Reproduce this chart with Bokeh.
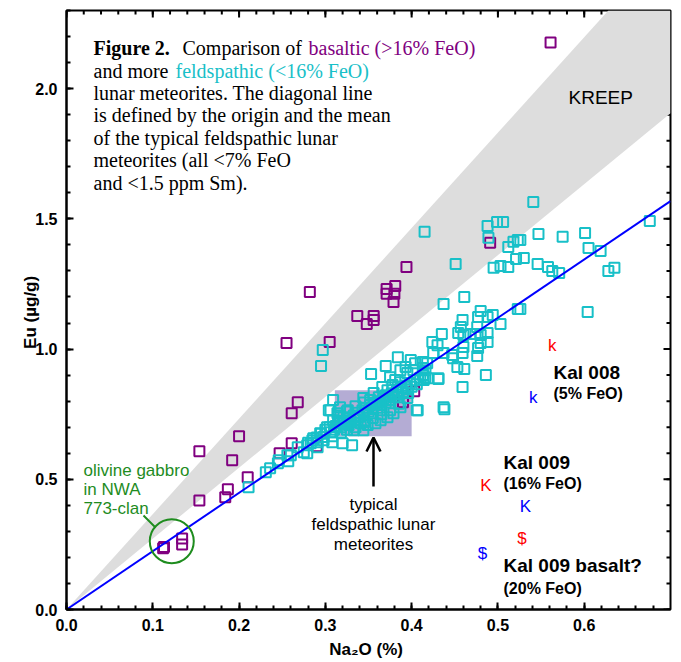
import numpy as np
from bokeh.plotting import figure
from bokeh.models import LinearAxis, SingleIntervalTicker, Range1d, Arrow, OpenHead, PrintfTickFormatter
from bokeh.core.properties import value
from bokeh.embed import file_html
from bokeh.resources import INLINE

# ---------------- data ----------------
# basaltic (>16% FeO) lunar meteorites: Na2O (%), Eu (ug/g)
basaltic_na2o = [0.561, 0.491, 0.394, 0.371, 0.381, 0.371, 0.380, 0.379, 0.337, 0.348, 0.356, 0.356,
                 0.305, 0.282, 0.255, 0.268, 0.261, 0.200, 0.154, 0.192, 0.261, 0.247, 0.210, 0.187,
                 0.184, 0.154, 0.290, 0.112, 0.113, 0.134, 0.134, 0.403, 0.390]
basaltic_eu = [2.177, 1.408, 1.315, 1.231, 1.242, 1.212, 1.212, 1.181, 1.127, 1.096, 1.127, 1.112,
               1.027, 1.219, 1.023, 0.796, 0.754, 0.665, 0.608, 0.573, 0.638, 0.600, 0.508, 0.462,
               0.431, 0.419, 0.627, 0.235, 0.240, 0.273, 0.250, 0.838, 0.796]

# feldspathic (<16% FeO) lunar meteorites
feld_na2o = [
    0.541, 0.526, 0.547, 0.575, 0.601, 0.605, 0.619, 0.530, 0.546, 0.558, 0.563, 0.571, 0.628, 0.635,
    0.676, 0.526, 0.604,
    0.415, 0.488, 0.499, 0.506, 0.489, 0.512, 0.518, 0.523, 0.521, 0.451, 0.495, 0.503, 0.512, 0.461,
    0.437, 0.523, 0.480, 0.494, 0.477, 0.488, 0.459, 0.457, 0.503, 0.476, 0.454, 0.460, 0.468, 0.474,
    0.480, 0.488, 0.435, 0.424, 0.430, 0.488, 0.480, 0.460, 0.477, 0.425, 0.437, 0.447, 0.459, 0.418,
    0.448, 0.476, 0.453, 0.461, 0.413, 0.416, 0.431, 0.486, 0.459, 0.437,
    0.297, 0.295, 0.353, 0.370, 0.384, 0.399, 0.404, 0.413, 0.416, 0.419, 0.414, 0.393, 0.387, 0.395,
    0.402, 0.375, 0.381, 0.387, 0.366, 0.372, 0.378, 0.384, 0.356, 0.362, 0.370, 0.344, 0.352, 0.360,
    0.407, 0.396, 0.395, 0.387, 0.379, 0.372, 0.364, 0.358, 0.349, 0.317, 0.326, 0.314, 0.321, 0.309,
    0.317, 0.327, 0.337, 0.341, 0.344, 0.333, 0.302, 0.306, 0.294, 0.298, 0.286, 0.291, 0.283, 0.279,
    0.308, 0.320, 0.331, 0.309, 0.304,
    0.438, 0.431, 0.406, 0.268, 0.275, 0.260,
    0.306, 0.279, 0.291, 0.257, 0.256, 0.246, 0.245, 0.236, 0.231, 0.211,
    0.300, 0.305, 0.310, 0.312, 0.315, 0.318, 0.322, 0.325, 0.328, 0.330, 0.333, 0.335, 0.338, 0.340,
    0.343, 0.345, 0.347, 0.350, 0.352, 0.355, 0.357, 0.360, 0.362, 0.365, 0.367, 0.370, 0.372, 0.375,
    0.377, 0.380, 0.383, 0.385, 0.388, 0.390, 0.393, 0.395, 0.398, 0.400, 0.403, 0.406, 0.410, 0.413,
    0.325, 0.335, 0.345, 0.355, 0.365, 0.375, 0.385, 0.315, 0.325, 0.335, 0.345, 0.290, 0.295, 0.285,
    0.280, 0.298, 0.308, 0.318]
feld_eu = [
    1.565, 1.419, 1.442, 1.431, 1.446, 1.388, 1.377, 1.350, 1.327, 1.315, 1.300, 1.292, 1.300, 1.312,
    1.492, 1.154, 1.142,
    1.450, 1.473, 1.488, 1.488, 1.427, 1.392, 1.412, 1.419, 1.346, 1.327, 1.312, 1.319, 1.315, 1.200,
    1.173, 1.154, 1.146, 1.131, 1.123, 1.123, 1.112, 1.085, 1.096, 1.085, 1.062, 1.054, 1.058, 1.058,
    1.054, 1.062, 1.058, 1.027, 1.015, 1.027, 1.023, 1.008, 1.004, 0.985, 0.985, 0.977, 0.985, 0.946,
    0.965, 0.973, 0.931, 0.923, 0.927, 0.892, 0.885, 0.900, 0.854, 0.777,
    0.996, 0.935, 0.904, 0.935, 0.969, 0.958, 0.946, 0.950, 0.919, 0.888, 0.881, 0.931, 0.919, 0.908,
    0.919, 0.892, 0.881, 0.873, 0.854, 0.842, 0.862, 0.854, 0.831, 0.815, 0.823, 0.812, 0.804, 0.796,
    0.765, 0.831, 0.812, 0.777, 0.754, 0.738, 0.727, 0.715, 0.708, 0.777, 0.765, 0.754, 0.738, 0.727,
    0.715, 0.708, 0.738, 0.715, 0.688, 0.688, 0.700, 0.681, 0.677, 0.662, 0.658, 0.642, 0.638, 0.631,
    0.642, 0.638, 0.631, 0.804, 0.765,
    0.769, 0.888, 0.765, 0.623, 0.604, 0.592,
    0.765, 0.600, 0.623, 0.569, 0.592, 0.573, 0.562, 0.542, 0.527, 0.469,
    0.690, 0.700, 0.690, 0.705, 0.720, 0.700, 0.725, 0.715, 0.735, 0.720, 0.745, 0.730, 0.755, 0.740,
    0.765, 0.750, 0.775, 0.760, 0.785, 0.770, 0.790, 0.775, 0.800, 0.785, 0.810, 0.795, 0.820, 0.805,
    0.830, 0.815, 0.840, 0.825, 0.850, 0.835, 0.860, 0.845, 0.870, 0.855, 0.880, 0.865, 0.890, 0.900,
    0.690, 0.700, 0.720, 0.735, 0.750, 0.765, 0.790, 0.745, 0.760, 0.780, 0.795, 0.660, 0.675, 0.650,
    0.640, 0.650, 0.665, 0.680]

# Kal 008 / Kal 009 analyses plotted as characters
kal_na2o = [0.563, 0.541, 0.486, 0.532, 0.528, 0.482]
kal_eu = [1.015, 0.815, 0.477, 0.396, 0.273, 0.215]
kal_char = ["k", "k", "K", "K", "$", "$"]
kal_color = ["#ff0000", "#0000ff", "#ff0000", "#0000ff", "#ff0000", "#0000ff"]

# KREEP wedge (origin-anchored) and reference line through origin and feldspathic mean
kreep_x = [0.0, 0.628, 0.70, 0.70]
kreep_y = [0.0, 2.30, 2.30, 1.905]
line_x = [0.0, 0.70]
line_y = [0.0, 1.568]
# typical feldspathic lunar meteorite box
box_left, box_right, box_bottom, box_top = 0.311, 0.400, 0.665, 0.842
# olivine gabbro circle
gabbro_x, gabbro_y = [0.122], [0.262]

XMAX, YMAX = 0.7, 2.3
FW, FH = 604, 599
PX_X = XMAX / FW   # data units per pixel
PX_Y = YMAX / FH


def X(px):
    return (px - 66) * PX_X


def Y(py):
    return (609 - py) * PX_Y


PURPLE = "#800080"
CYAN = "#18c0c8"
GREEN = "#1e8c1e"

p = figure(frame_width=FW, frame_height=FH, x_range=Range1d(0, XMAX), y_range=Range1d(0, YMAX),
           output_backend="svg", toolbar_location=None, x_axis_location=None, y_axis_location=None,
           min_border_left=66, min_border_right=8, min_border_top=10, min_border_bottom=50)
p.xgrid.grid_line_color = None
p.ygrid.grid_line_color = None
p.outline_line_color = "black"
p.outline_line_width = 2
p.background_fill_color = "white"
p.border_fill_color = "white"


def mk_axis(interval):
    ax = LinearAxis(ticker=SingleIntervalTicker(interval=interval, num_minor_ticks=5),
                    formatter=PrintfTickFormatter(format="%.1f"))
    ax.major_tick_in = 7
    ax.major_tick_out = 0
    ax.minor_tick_in = 4
    ax.minor_tick_out = 0
    ax.axis_line_width = 2
    ax.major_tick_line_width = 2
    ax.minor_tick_line_width = 2
    ax.major_label_text_font = "Liberation Sans"
    ax.major_label_text_font_style = "bold"
    ax.major_label_text_font_size = "16px"
    ax.major_label_text_color = "black"
    ax.axis_label_text_font = "Liberation Sans"
    ax.axis_label_text_font_style = "bold"
    ax.axis_label_text_font_size = "17px"
    ax.axis_label_text_color = "black"
    return ax


xb = mk_axis(0.1)
xb.axis_label = "Na\u2082O  (%)"
xb.major_label_standoff = 9
xb.axis_label_standoff = 6
p.add_layout(xb, "below")
yl = mk_axis(0.5)
yl.axis_label = "Eu  (\u00b5g/g)"
yl.major_label_standoff = 9
yl.axis_label_standoff = -8
p.add_layout(yl, "left")

# mirrored inward ticks on top and right frame edges
xt_minor = np.round(np.arange(0, XMAX + 1e-9, 0.02), 3)
xt_major = np.round(np.arange(0, XMAX + 1e-9, 0.1), 3)
yt_minor = np.round(np.arange(0, YMAX + 1e-9, 0.1), 3)
yt_major = np.round(np.arange(0, YMAX + 1e-9, 0.5), 3)
p.segment(x0=xt_minor, y0=[YMAX] * len(xt_minor), x1=xt_minor, y1=[YMAX - 4 * PX_Y] * len(xt_minor),
          line_color="black", line_width=2)
p.segment(x0=xt_major, y0=[YMAX] * len(xt_major), x1=xt_major, y1=[YMAX - 7 * PX_Y] * len(xt_major),
          line_color="black", line_width=2)
p.segment(x0=[XMAX] * len(yt_minor), y0=yt_minor, x1=[XMAX - 4 * PX_X] * len(yt_minor), y1=yt_minor,
          line_color="black", line_width=2)
p.segment(x0=[XMAX] * len(yt_major), y0=yt_major, x1=[XMAX - 7 * PX_X] * len(yt_major), y1=yt_major,
          line_color="black", line_width=2)

# KREEP wedge
p.patch(kreep_x, kreep_y, fill_color="#dddddd", line_color=None)
# typical box
p.quad(left=[box_left], right=[box_right], bottom=[box_bottom], top=[box_top],
       fill_color="#b4acd4", line_color=None)

p.scatter(basaltic_na2o, basaltic_eu, marker="square", size=10, fill_color=None,
          line_color=PURPLE, line_width=2)
p.scatter(feld_na2o, feld_eu, marker="square", size=10, fill_color=None,
          line_color=CYAN, line_width=2)
p.line(line_x, line_y, line_color="#0000ff", line_width=2)

# Kal characters
p.text(x=kal_na2o, y=kal_eu, text=kal_char, text_color=kal_color,
       text_font=value("Liberation Sans"), text_font_size=value("17px"),
       text_align=value("center"), text_baseline=value("middle"))

# olivine gabbro circle and leader
p.scatter(gabbro_x, gabbro_y, marker="circle", size=44, fill_color=None, line_color=GREEN, line_width=2)
p.line([X(143), X(155)], [Y(515), Y(527)], line_color=GREEN, line_width=2)

p.add_layout(Arrow(end=OpenHead(size=14, line_width=2.5, line_color="black"),
                   x_start=X(373), y_start=Y(486), x_end=X(373), y_end=Y(437),
                   line_width=2.5, line_color="black"))


def txt(px, py, s, size, color="black", font="Liberation Sans", style="normal", align="left"):
    p.text(x=[X(px)], y=[Y(py)], text=[s], text_font=value(font), text_font_size=value(size),
           text_color=value(color), text_font_style=value(style), text_align=value(align),
           text_baseline=value("middle"))


SERIF = "Liberation Serif"
CAP = "20px"
txt(93, 47, "Figure 2.", CAP, font=SERIF, style="bold")
txt(182, 47, "Comparison of", CAP, font=SERIF)
txt(308, 47, "basaltic (>16% FeO)", CAP, color=PURPLE, font=SERIF)
txt(93, 70, "and more", CAP, font=SERIF)
txt(175, 70, "feldspathic (<16% FeO)", CAP, color=CYAN, font=SERIF)
for i, s in enumerate(["lunar meteorites. The diagonal line",
                       "is defined by the origin and the mean",
                       "of the typical feldspathic lunar",
                       "meteorites (all <7% FeO",
                       "and <1.5 ppm Sm)."]):
    txt(93, 92 + 22.5 * i, s, CAP, font=SERIF)

txt(568, 97, "KREEP", "19px")

txt(553, 372, "Kal 008", "19px", style="bold")
txt(553, 393, "(5% FeO)", "16px", style="bold")
txt(503, 462, "Kal 009", "19px", style="bold")
txt(503, 483, "(16% FeO)", "16px", style="bold")
txt(503, 565, "Kal 009 basalt?", "19px", style="bold")
txt(503, 588, "(20% FeO)", "16px", style="bold")

txt(83, 470, "olivine gabbro", "17px", color=GREEN)
txt(83, 489, "in NWA", "17px", color=GREEN)
txt(83, 508, "773-clan", "17px", color=GREEN)

txt(373, 504, "typical", "17px", align="center")
txt(373, 524, "feldspathic lunar", "17px", align="center")
txt(373, 544, "meteorites", "17px", align="center")

open("out.html", "w").write(file_html(p, INLINE))
